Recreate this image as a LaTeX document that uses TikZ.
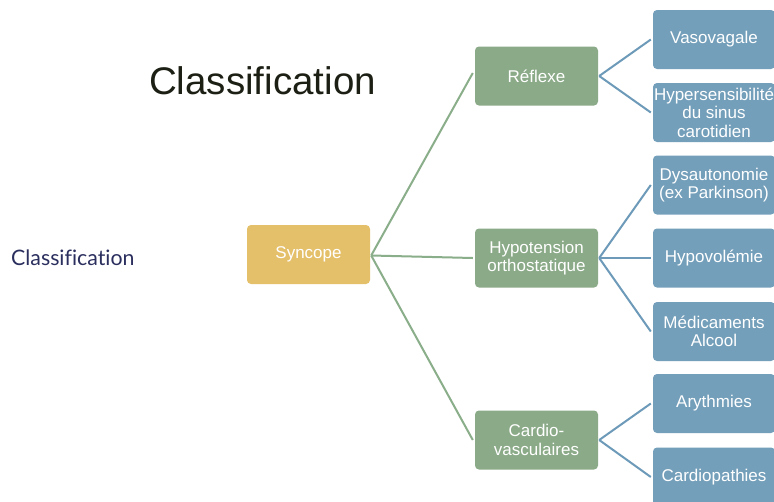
\documentclass[tikz,border=0pt]{standalone}
\usepackage{fontspec}
\setmainfont{Liberation Sans}
\newfontfamily\labelfont[Ligatures=NoCommon]{Lato}
\definecolor{syncfill}{HTML}{E5C06B}
\definecolor{greenfill}{HTML}{8BAA88}
\definecolor{bluefill}{HTML}{749FBA}
\definecolor{greenline}{HTML}{8BAE8A}
\definecolor{blueline}{HTML}{6C9AB8}
\definecolor{titlecol}{HTML}{1C1F14}
\definecolor{navy}{HTML}{2B2F5E}
\tikzset{
  boxbase/.style={rounded corners=4pt, inner sep=0pt, text=white, align=center,
    font=\fontsize{17}{18.5}\selectfont},
  syncbox/.style={boxbase, fill=syncfill, minimum width=123pt, minimum height=59pt},
  greenbox/.style={boxbase, fill=greenfill, minimum width=123pt, minimum height=59pt},
  bluebox/.style={boxbase, fill=bluefill, minimum width=122pt, minimum height=59pt},
  gline/.style={draw=greenline, line width=2pt},
  bline/.style={draw=blueline, line width=2pt},
}
\begin{document}
\begin{tikzpicture}[x=1pt,y=-1pt]
\useasboundingbox (0,0) rectangle (774,501);
\clip (0,0) rectangle (774,501);
\fill[white] (0,0) rectangle (774,501);
\node[font=\fontsize{38.5}{40}\selectfont, text=titlecol, inner sep=0pt] (title) at (262.5,81) {Classification};
\node[font=\labelfont\fontsize{21.3}{24}\selectfont, text=navy, inner sep=0pt, anchor=west] (side) at (11,258) {Classification};

\node[syncbox] (sync) at (308.5,254.5) {Syncope};
\node[greenbox] (refl) at (536.5,76) {Réflexe};
\node[greenbox] (hypo) at (536.5,258) {Hypotension\\orthostatique};
\node[greenbox] (card) at (536.5,440) {Cardio-\\vasculaires};

\node[bluebox] (vaso) at (714,39.5) {Vasovagale};
\node[bluebox] (hyper) at (714,112.5) {Hypersensibilité\\du sinus\\carotidien};
\node[bluebox] (dysa) at (714,185) {Dysautonomie\\(ex Parkinson)};
\node[bluebox] (hvol) at (714,258) {Hypovolémie};
\node[bluebox] (medi) at (714,331.5) {Médicaments\\Alcool};
\node[bluebox] (aryt) at (714,403.5) {Arythmies};
\node[bluebox] (cpat) at (714,477) {Cardiopathies};

\draw[gline] ([xshift=1pt,yshift=-1pt]sync.east) -- ([xshift=-2pt,yshift=3pt]refl.west);
\draw[gline] ([xshift=1pt,yshift=-1pt]sync.east) -- ([xshift=-2pt]hypo.west);
\draw[gline] ([xshift=1pt,yshift=-1pt]sync.east) -- ([xshift=-2pt]card.west);

\draw[bline] ([xshift=1pt]refl.east) -- ([xshift=-2pt]vaso.west);
\draw[bline] ([xshift=1pt]refl.east) -- ([xshift=-2pt]hyper.west);
\draw[bline] ([xshift=1pt]hypo.east) -- ([xshift=-2pt]dysa.west);
\draw[bline] ([xshift=1pt]hypo.east) -- ([xshift=-2pt]hvol.west);
\draw[bline] ([xshift=1pt]hypo.east) -- ([xshift=-2pt]medi.west);
\draw[bline] ([xshift=1pt]card.east) -- ([xshift=-2pt]aryt.west);
\draw[bline] ([xshift=1pt]card.east) -- ([xshift=-2pt]cpat.west);
\end{tikzpicture}
\end{document}
